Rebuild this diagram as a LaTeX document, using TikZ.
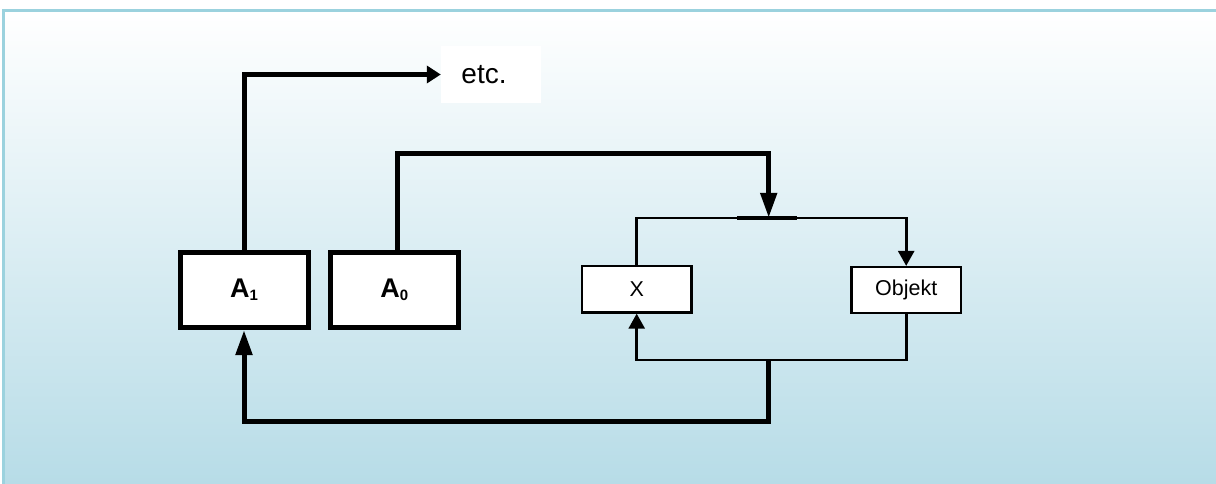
\documentclass[tikz,border=0pt]{standalone}
\usepackage{fontspec}
\setmainfont{Liberation Sans}
\usetikzlibrary{arrows.meta}

\definecolor{bgtop}{RGB}{255,255,255}
\definecolor{bgbot}{RGB}{183,220,231}
\definecolor{framecol}{RGB}{155,210,222}

\tikzset{
  bigbox/.style={draw=black, fill=white, line width=5pt, inner sep=0pt,
    minimum width=128pt, minimum height=75.5pt,
    font=\fontsize{27}{30}\selectfont\bfseries},
  smallbox/.style={draw=black, fill=white, line width=2.2pt, inner sep=0pt,
    minimum width=109.5pt, minimum height=46.5pt,
    font=\fontsize{21.5}{24}\selectfont},
  labelbox/.style={fill=white, inner sep=0pt, minimum width=100pt,
    minimum height=57pt, font=\fontsize{28}{31}\selectfont},
  heavy/.style={line width=5pt},
  light/.style={line width=2.6pt},
  bigtip/.style={-{Triangle[length=25pt,width=16pt]}},
  smalltip/.style={-{Triangle[length=15pt,width=16pt]}},
  sidetip/.style={-{Triangle[length=14pt,width=17pt]}},
}
\newcommand{\sub}[1]{\raisebox{-3.5pt}{\fontsize{15}{15}\selectfont #1}}

\begin{document}
\begin{tikzpicture}[x=1pt, y=-1pt]
  % page and shaded panel
  \useasboundingbox (0,0) rectangle (1216,484);
  \fill[white] (0,0) rectangle (1216,484);
  \shade[top color=bgtop, bottom color=bgbot] (3,10.5) rectangle (1216,484);
  \draw[framecol, line width=3pt] (3,484) -- (3,10.5) -- (1216,10.5);

  % blocks
  \node[bigbox] (A1) at (244,289.8) {A\sub{1}};
  \node[bigbox] (A0) at (394.2,289.8) {A\sub{0}};
  \node[smallbox] (X) at (636.7,289.3) {X};
  \node[smallbox, minimum height=46pt] (Obj) at (906.2,290) {Objekt};
  \node[labelbox] (etc) at (491,74.5) {etc.\hspace*{14pt}};

  % junction points on the inner loop
  \coordinate (split) at (768.7,217.8);
  \coordinate (merge) at (768.5,360);

  % inner loop between X and Objekt
  \draw[light, smalltip] (X.north) |- (split) -| (Obj.north);
  \draw[line width=3.8pt] ([xshift=-31.7pt]split) -- ([xshift=28.3pt]split);
  \draw[light, smalltip] (Obj.south) |- (merge) -| (X.south);

  % outer connectors
  \draw[heavy, sidetip] (A1.north) |- (etc.west);
  \draw[heavy, bigtip] ([xshift=3pt]A0.north) -- ++(0,-96.5) -| (split);
  \draw[heavy, bigtip] (merge) -- ++(0,61) -| (A1.south);
\end{tikzpicture}
\end{document}
